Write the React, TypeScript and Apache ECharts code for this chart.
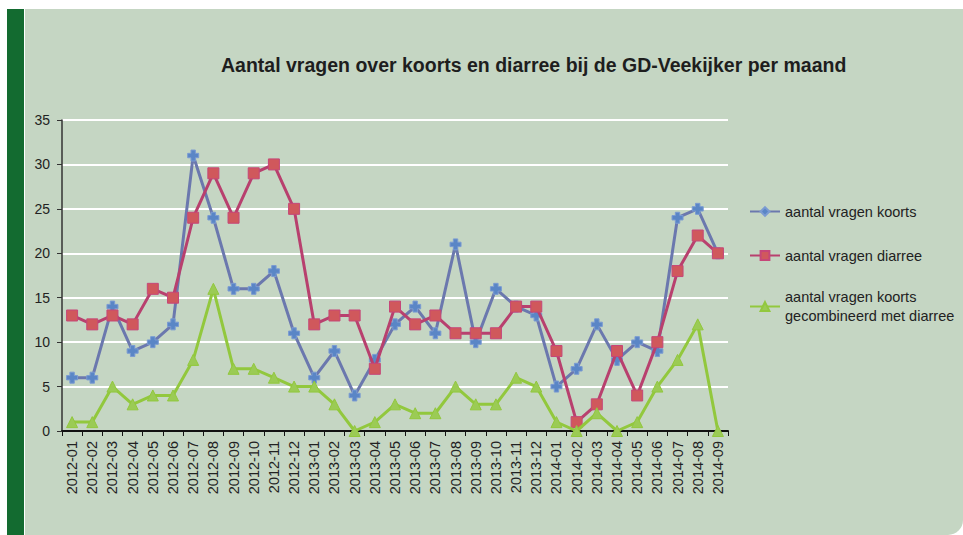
import React, { useEffect, useRef } from "react";
import * as echarts from "echarts";

const months = [
  "2012-01","2012-02","2012-03","2012-04","2012-05","2012-06","2012-07","2012-08","2012-09","2012-10","2012-11","2012-12",
  "2013-01","2013-02","2013-03","2013-04","2013-05","2013-06","2013-07","2013-08","2013-09","2013-10","2013-11","2013-12",
  "2014-01","2014-02","2014-03","2014-04","2014-05","2014-06","2014-07","2014-08","2014-09",
];
const koorts = [6,6,14,9,10,12,31,24,16,16,18,11, 6,9,4,8,12,14,11,21,10,16,14,13, 5,7,12,8,10,9,24,25,20];
const diarree = [13,12,13,12,16,15,24,29,24,29,30,25, 12,13,13,7,14,12,13,11,11,11,14,14, 9,1,3,9,4,10,18,22,20];
const gecombineerd = [1,1,5,3,4,4,8,16,7,7,6,5, 5,3,0,1,3,2,2,5,3,3,6,5, 1,0,2,0,1,5,8,12,0];

const seriesNames = [
  "aantal vragen koorts",
  "aantal vragen diarree",
  "aantal vragen koorts gecombineerd met diarree",
];
const titleText = "Aantal vragen over koorts en diarree bij de GD-Veekijker per maand";
const yTicks = { min: 0, max: 35, interval: 5 };

const PLUS = "path://M3,0H7V3H10V7H7V10H3V7H0V3H3Z";
const FONT = "Liberation Sans, Arial, sans-serif";

export default function App() {
  const ref = useRef<HTMLDivElement>(null);
  useEffect(() => {
    if (!ref.current) return;
    const chart = echarts.init(ref.current, undefined, { renderer: "svg" });
    const legendText = { color: "#222", fontSize: 14.5, fontFamily: FONT, lineHeight: 19 };
    const legendCommon = {
      orient: "vertical" as const,
      left: 749,
      padding: 0,
      itemWidth: 30,
      itemHeight: 11,
      itemGap: 25,
      selectedMode: false,
    };
    chart.setOption({
      animation: false,
      backgroundColor: "transparent",
      textStyle: { fontFamily: FONT },
      graphic: [
        { type: "rect", z: -10, shape: { x: 7, y: 9, width: 17, height: 530 }, style: { fill: "#136b30" } },
        { type: "rect", z: -10, shape: { x: 25, y: 9, width: 938, height: 526, r: [0, 0, 15, 0] }, style: { fill: "#c5d6c3" } },
      ],
      title: {
        text: titleText,
        left: 216,
        top: 50,
        textStyle: { fontSize: 19.5, fontWeight: "bold", color: "#1e1e1e", fontFamily: FONT },
      },
      legend: [
        { ...legendCommon, top: 202, data: [seriesNames[0], seriesNames[1]], textStyle: legendText },
        {
          ...legendCommon,
          top: 278,
          data: [seriesNames[2]],
          formatter: () => "aantal vragen koorts\ngecombineerd met diarree",
          textStyle: { ...legendText, padding: [19, 0, 0, 0] },
        },
      ],
      grid: { left: 62, top: 120, width: 666, height: 311 },
      xAxis: {
        type: "category",
        data: months,
        boundaryGap: true,
        axisLine: { lineStyle: { color: "#111", width: 2 } },
        axisTick: { show: true, length: 5, lineStyle: { color: "#111" } },
        axisLabel: { rotate: 90, fontSize: 14.5, color: "#222", margin: 10, interval: 0, fontFamily: FONT },
        splitLine: { show: false },
      },
      yAxis: {
        type: "value",
        min: yTicks.min,
        max: yTicks.max,
        interval: yTicks.interval,
        axisLine: { show: true, lineStyle: { color: "#333", width: 1.5 } },
        axisTick: { show: true, length: 5, lineStyle: { color: "#333" } },
        axisLabel: { fontSize: 14, color: "#222", margin: 12, fontFamily: FONT },
        splitLine: { lineStyle: { color: "#ffffff", width: 2 } },
      },
      series: [
        {
          name: seriesNames[0],
          type: "line",
          data: koorts.map((v) => ({ value: v, symbol: PLUS })),
          symbol: "diamond",
          symbolSize: 11,
          lineStyle: { color: "#6b78ae", width: 3 },
          itemStyle: { color: "#5a86c6", borderColor: "#7b9bd2", borderWidth: 1 },
          z: 2,
        },
        {
          name: seriesNames[1],
          type: "line",
          data: diarree,
          symbol: "rect",
          symbolSize: 11,
          lineStyle: { color: "#b8406e", width: 3 },
          itemStyle: { color: "#d0585c", borderColor: "#c64678", borderWidth: 1 },
          z: 3,
        },
        {
          name: seriesNames[2],
          type: "line",
          data: gecombineerd,
          symbol: "triangle",
          symbolSize: 11,
          lineStyle: { color: "#92c83d", width: 3 },
          itemStyle: { color: "#9bcb55", borderColor: "#92c83d", borderWidth: 1 },
          z: 4,
        },
      ],
    });
    return () => chart.dispose();
  }, []);
  return (
    <div
      ref={ref}
      style={{ position: "fixed", left: 0, top: 0, width: 963, height: 535, background: "#ffffff" }}
    />
  );
}
